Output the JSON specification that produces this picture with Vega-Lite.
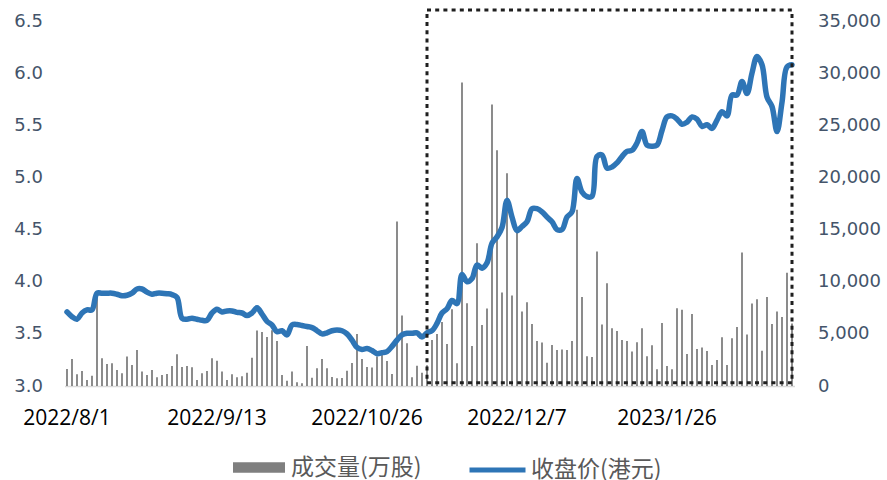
{
  "$schema": "https://vega.github.io/schema/vega-lite/v6.json",
  "width": 730,
  "height": 365,
  "autosize": {"type": "none"},
  "padding": {"left": 64.5, "top": 21, "right": 92.5, "bottom": 94},
  "background": "white",
  "config": {"view": {"stroke": null}, "axis": {"grid": false, "ticks": false}},
  "datasets": {
    "stock": [
      {"date": "2022-08-01", "volume": 1630, "price": 3.71},
      {"date": "2022-08-02", "volume": 2590, "price": 3.665},
      {"date": "2022-08-03", "volume": 1120, "price": 3.64},
      {"date": "2022-08-04", "volume": 1440, "price": 3.70},
      {"date": "2022-08-05", "volume": 580, "price": 3.73},
      {"date": "2022-08-08", "volume": 990, "price": 3.73},
      {"date": "2022-08-09", "volume": 8900, "price": 3.89},
      {"date": "2022-08-10", "volume": 2660, "price": 3.89},
      {"date": "2022-08-11", "volume": 2110, "price": 3.89},
      {"date": "2022-08-12", "volume": 2180, "price": 3.89},
      {"date": "2022-08-15", "volume": 1540, "price": 3.88},
      {"date": "2022-08-16", "volume": 1220, "price": 3.866},
      {"date": "2022-08-17", "volume": 2820, "price": 3.87},
      {"date": "2022-08-18", "volume": 2020, "price": 3.89},
      {"date": "2022-08-19", "volume": 3460, "price": 3.93},
      {"date": "2022-08-22", "volume": 1380, "price": 3.93},
      {"date": "2022-08-23", "volume": 1060, "price": 3.90},
      {"date": "2022-08-24", "volume": 1540, "price": 3.88},
      {"date": "2022-08-25", "volume": 830, "price": 3.89},
      {"date": "2022-08-26", "volume": 1060, "price": 3.89},
      {"date": "2022-08-29", "volume": 1150, "price": 3.885},
      {"date": "2022-08-30", "volume": 1920, "price": 3.877},
      {"date": "2022-08-31", "volume": 3040, "price": 3.85},
      {"date": "2022-09-01", "volume": 1820, "price": 3.65},
      {"date": "2022-09-02", "volume": 1920, "price": 3.64},
      {"date": "2022-09-05", "volume": 1790, "price": 3.65},
      {"date": "2022-09-06", "volume": 580, "price": 3.64},
      {"date": "2022-09-07", "volume": 1220, "price": 3.63},
      {"date": "2022-09-08", "volume": 1440, "price": 3.63},
      {"date": "2022-09-09", "volume": 2660, "price": 3.70},
      {"date": "2022-09-13", "volume": 2420, "price": 3.735},
      {"date": "2022-09-14", "volume": 1380, "price": 3.71},
      {"date": "2022-09-15", "volume": 580, "price": 3.72},
      {"date": "2022-09-16", "volume": 1120, "price": 3.72},
      {"date": "2022-09-19", "volume": 830, "price": 3.706},
      {"date": "2022-09-20", "volume": 930, "price": 3.70},
      {"date": "2022-09-21", "volume": 1280, "price": 3.675},
      {"date": "2022-09-22", "volume": 2720, "price": 3.70},
      {"date": "2022-09-23", "volume": 5310, "price": 3.75},
      {"date": "2022-09-26", "volume": 5180, "price": 3.69},
      {"date": "2022-09-27", "volume": 4700, "price": 3.62},
      {"date": "2022-09-28", "volume": 5340, "price": 3.585},
      {"date": "2022-09-29", "volume": 4320, "price": 3.52},
      {"date": "2022-09-30", "volume": 1060, "price": 3.53},
      {"date": "2022-10-03", "volume": 510, "price": 3.49},
      {"date": "2022-10-05", "volume": 1380, "price": 3.585},
      {"date": "2022-10-06", "volume": 350, "price": 3.59},
      {"date": "2022-10-07", "volume": 260, "price": 3.58},
      {"date": "2022-10-10", "volume": 3840, "price": 3.57},
      {"date": "2022-10-11", "volume": 800, "price": 3.56},
      {"date": "2022-10-12", "volume": 1700, "price": 3.53},
      {"date": "2022-10-13", "volume": 2590, "price": 3.50},
      {"date": "2022-10-14", "volume": 1700, "price": 3.51},
      {"date": "2022-10-17", "volume": 860, "price": 3.53},
      {"date": "2022-10-18", "volume": 740, "price": 3.537},
      {"date": "2022-10-19", "volume": 770, "price": 3.53},
      {"date": "2022-10-20", "volume": 1470, "price": 3.50},
      {"date": "2022-10-21", "volume": 2210, "price": 3.44},
      {"date": "2022-10-24", "volume": 4990, "price": 3.37},
      {"date": "2022-10-25", "volume": 2590, "price": 3.35},
      {"date": "2022-10-26", "volume": 1820, "price": 3.36},
      {"date": "2022-10-27", "volume": 1780, "price": 3.34},
      {"date": "2022-10-28", "volume": 2820, "price": 3.31},
      {"date": "2022-10-31", "volume": 3070, "price": 3.32},
      {"date": "2022-11-01", "volume": 2400, "price": 3.33},
      {"date": "2022-11-02", "volume": 1150, "price": 3.38},
      {"date": "2022-11-03", "volume": 15780, "price": 3.44},
      {"date": "2022-11-04", "volume": 6750, "price": 3.49},
      {"date": "2022-11-07", "volume": 4100, "price": 3.505},
      {"date": "2022-11-08", "volume": 830, "price": 3.505},
      {"date": "2022-11-09", "volume": 1950, "price": 3.51},
      {"date": "2022-11-10", "volume": 1280, "price": 3.47},
      {"date": "2022-11-11", "volume": 2000, "price": 3.51},
      {"date": "2022-11-14", "volume": 4420, "price": 3.53},
      {"date": "2022-11-15", "volume": 4990, "price": 3.60},
      {"date": "2022-11-16", "volume": 6140, "price": 3.70},
      {"date": "2022-11-17", "volume": 4030, "price": 3.74},
      {"date": "2022-11-18", "volume": 7360, "price": 3.82},
      {"date": "2022-11-21", "volume": 2180, "price": 3.79},
      {"date": "2022-11-22", "volume": 29100, "price": 4.07},
      {"date": "2022-11-23", "volume": 7940, "price": 4.00},
      {"date": "2022-11-24", "volume": 3840, "price": 4.03},
      {"date": "2022-11-25", "volume": 13700, "price": 4.16},
      {"date": "2022-11-28", "volume": 5860, "price": 4.13},
      {"date": "2022-11-29", "volume": 7420, "price": 4.18},
      {"date": "2022-11-30", "volume": 27000, "price": 4.37},
      {"date": "2022-12-01", "volume": 22600, "price": 4.43},
      {"date": "2022-12-02", "volume": 8960, "price": 4.52},
      {"date": "2022-12-05", "volume": 20400, "price": 4.78},
      {"date": "2022-12-06", "volume": 8670, "price": 4.62},
      {"date": "2022-12-07", "volume": 14700, "price": 4.49},
      {"date": "2022-12-08", "volume": 7140, "price": 4.53},
      {"date": "2022-12-09", "volume": 8030, "price": 4.575},
      {"date": "2022-12-12", "volume": 5950, "price": 4.70},
      {"date": "2022-12-13", "volume": 4320, "price": 4.70},
      {"date": "2022-12-14", "volume": 4160, "price": 4.67},
      {"date": "2022-12-15", "volume": 2240, "price": 4.62},
      {"date": "2022-12-16", "volume": 3940, "price": 4.575},
      {"date": "2022-12-19", "volume": 3460, "price": 4.50},
      {"date": "2022-12-20", "volume": 3490, "price": 4.50},
      {"date": "2022-12-21", "volume": 3460, "price": 4.62},
      {"date": "2022-12-22", "volume": 4320, "price": 4.67},
      {"date": "2022-12-23", "volume": 16900, "price": 4.99},
      {"date": "2022-12-28", "volume": 8540, "price": 4.86},
      {"date": "2022-12-29", "volume": 2850, "price": 4.815},
      {"date": "2022-12-30", "volume": 2780, "price": 4.82},
      {"date": "2023-01-03", "volume": 12900, "price": 5.20},
      {"date": "2023-01-04", "volume": 5890, "price": 5.215},
      {"date": "2023-01-05", "volume": 9860, "price": 5.09},
      {"date": "2023-01-06", "volume": 5540, "price": 5.10},
      {"date": "2023-01-09", "volume": 5280, "price": 5.14},
      {"date": "2023-01-10", "volume": 4420, "price": 5.20},
      {"date": "2023-01-11", "volume": 4320, "price": 5.25},
      {"date": "2023-01-12", "volume": 3300, "price": 5.26},
      {"date": "2023-01-13", "volume": 4190, "price": 5.33},
      {"date": "2023-01-16", "volume": 5540, "price": 5.44},
      {"date": "2023-01-17", "volume": 2850, "price": 5.31},
      {"date": "2023-01-18", "volume": 3900, "price": 5.30},
      {"date": "2023-01-19", "volume": 1600, "price": 5.31},
      {"date": "2023-01-20", "volume": 6050, "price": 5.45},
      {"date": "2023-01-26", "volume": 1920, "price": 5.58},
      {"date": "2023-01-27", "volume": 1600, "price": 5.59},
      {"date": "2023-01-30", "volume": 7460, "price": 5.56},
      {"date": "2023-01-31", "volume": 7300, "price": 5.51},
      {"date": "2023-02-01", "volume": 3070, "price": 5.53},
      {"date": "2023-02-02", "volume": 6910, "price": 5.58},
      {"date": "2023-02-03", "volume": 3550, "price": 5.56},
      {"date": "2023-02-06", "volume": 3680, "price": 5.49},
      {"date": "2023-02-07", "volume": 3360, "price": 5.505},
      {"date": "2023-02-08", "volume": 2020, "price": 5.47},
      {"date": "2023-02-09", "volume": 2500, "price": 5.55},
      {"date": "2023-02-10", "volume": 4670, "price": 5.63},
      {"date": "2023-02-13", "volume": 2020, "price": 5.59},
      {"date": "2023-02-14", "volume": 4580, "price": 5.79},
      {"date": "2023-02-15", "volume": 5660, "price": 5.79},
      {"date": "2023-02-16", "volume": 12800, "price": 5.92},
      {"date": "2023-02-17", "volume": 4930, "price": 5.805},
      {"date": "2023-02-20", "volume": 7900, "price": 6.00},
      {"date": "2023-02-21", "volume": 8320, "price": 6.16},
      {"date": "2023-02-22", "volume": 3390, "price": 6.08},
      {"date": "2023-02-23", "volume": 8540, "price": 5.77},
      {"date": "2023-02-24", "volume": 5950, "price": 5.68},
      {"date": "2023-02-27", "volume": 7140, "price": 5.44},
      {"date": "2023-02-28", "volume": 6620, "price": 5.72},
      {"date": "2023-03-01", "volume": 10850, "price": 6.06},
      {"date": "2023-03-02", "volume": 6000, "price": 6.08}
    ],
    "box": [
      {"start": "2022-11-11", "end": "2023-03-02", "top": 6.605, "bottom": 3.03}
    ]
  },
  "layer": [
    {
      "data": {"name": "stock"},
      "mark": {"type": "bar", "width": 1.8},
      "encoding": {
        "x": {
          "field": "date",
          "type": "ordinal",
          "scale": {"paddingInner": 0, "paddingOuter": 0},
          "axis": {
            "title": null,
            "values": ["2022-08-01", "2022-09-13", "2022-10-26", "2022-12-07", "2023-01-26"],
            "labelExpr": "utcFormat(toDate(datum.value), '%Y/%-m/%-d')",
            "labelAngle": 0,
            "labelFont": "Open Sans",
            "labelFontSize": 21,
            "labelColor": "#000000",
            "labelPadding": 21,
            "labelOverlap": false,
            "labelBound": false,
            "ticks": false,
            "domain": true,
            "domainColor": "#D9D9D9",
            "domainWidth": 1.5
          }
        },
        "y": {
          "field": "volume",
          "type": "quantitative",
          "scale": {"domain": [0, 35000]},
          "axis": {
            "orient": "right",
            "title": null,
            "values": [0, 5000, 10000, 15000, 20000, 25000, 30000, 35000],
            "format": ",.0f",
            "labelFont": "DejaVu Sans",
            "labelFontSize": 18,
            "labelColor": "#44546A",
            "labelPadding": 23,
            "domain": false,
            "ticks": false,
            "grid": false
          }
        },
        "color": {
          "datum": "成交量(万股)",
          "scale": {"range": ["#7F7F7F"]},
          "legend": {
            "orient": "none",
            "legendX": 168.5,
            "legendY": 420.5,
            "title": null,
            "padding": 0,
            "symbolType": "M-1,-0.2H1V0.2H-1Z",
            "symbolSize": 2704,
            "symbolStrokeWidth": 0,
            "symbolOpacity": 1,
            "labelFont": "Noto Sans CJK SC",
            "labelFontSize": 23,
            "labelColor": "#595959",
            "labelOffset": 6,
            "labelLimit": 400
          }
        }
      }
    },
    {
      "data": {"name": "stock"},
      "mark": {"type": "line", "strokeWidth": 5.5, "interpolate": "catmull-rom", "strokeCap": "round", "strokeJoin": "round"},
      "encoding": {
        "x": {"field": "date", "type": "ordinal"},
        "y": {
          "field": "price",
          "type": "quantitative",
          "scale": {"domain": [3, 6.5]},
          "axis": {
            "orient": "left",
            "title": null,
            "values": [3, 3.5, 4, 4.5, 5, 5.5, 6, 6.5],
            "format": ".1f",
            "labelFont": "DejaVu Sans",
            "labelFontSize": 18,
            "labelColor": "#44546A",
            "labelPadding": 22,
            "domain": false,
            "ticks": false,
            "grid": false
          }
        },
        "stroke": {
          "datum": "收盘价(港元)",
          "scale": {"range": ["#2E75B6"]},
          "legend": {
            "orient": "none",
            "legendX": 402.5,
            "legendY": 418.5,
            "title": null,
            "padding": 0,
            "symbolType": "stroke",
            "symbolSize": 3136,
            "symbolStrokeWidth": 5,
            "labelFont": "Noto Sans CJK SC",
            "labelFontSize": 23,
            "labelColor": "#595959",
            "labelOffset": 3,
            "labelLimit": 400
          }
        }
      }
    },
    {
      "data": {"name": "box"},
      "mark": {"type": "rect", "fill": null, "stroke": "#1F1F1F", "strokeWidth": 3, "strokeDash": [4, 4.2]},
      "encoding": {
        "x": {"field": "start", "type": "ordinal", "bandPosition": 0.5},
        "x2": {"field": "end", "bandPosition": 0.5},
        "y": {"field": "top", "type": "quantitative", "scale": {"domain": [3, 6.5]}, "axis": null},
        "y2": {"field": "bottom"}
      }
    }
  ],
  "resolve": {"scale": {"y": "independent", "color": "independent", "stroke": "independent"}}
}
